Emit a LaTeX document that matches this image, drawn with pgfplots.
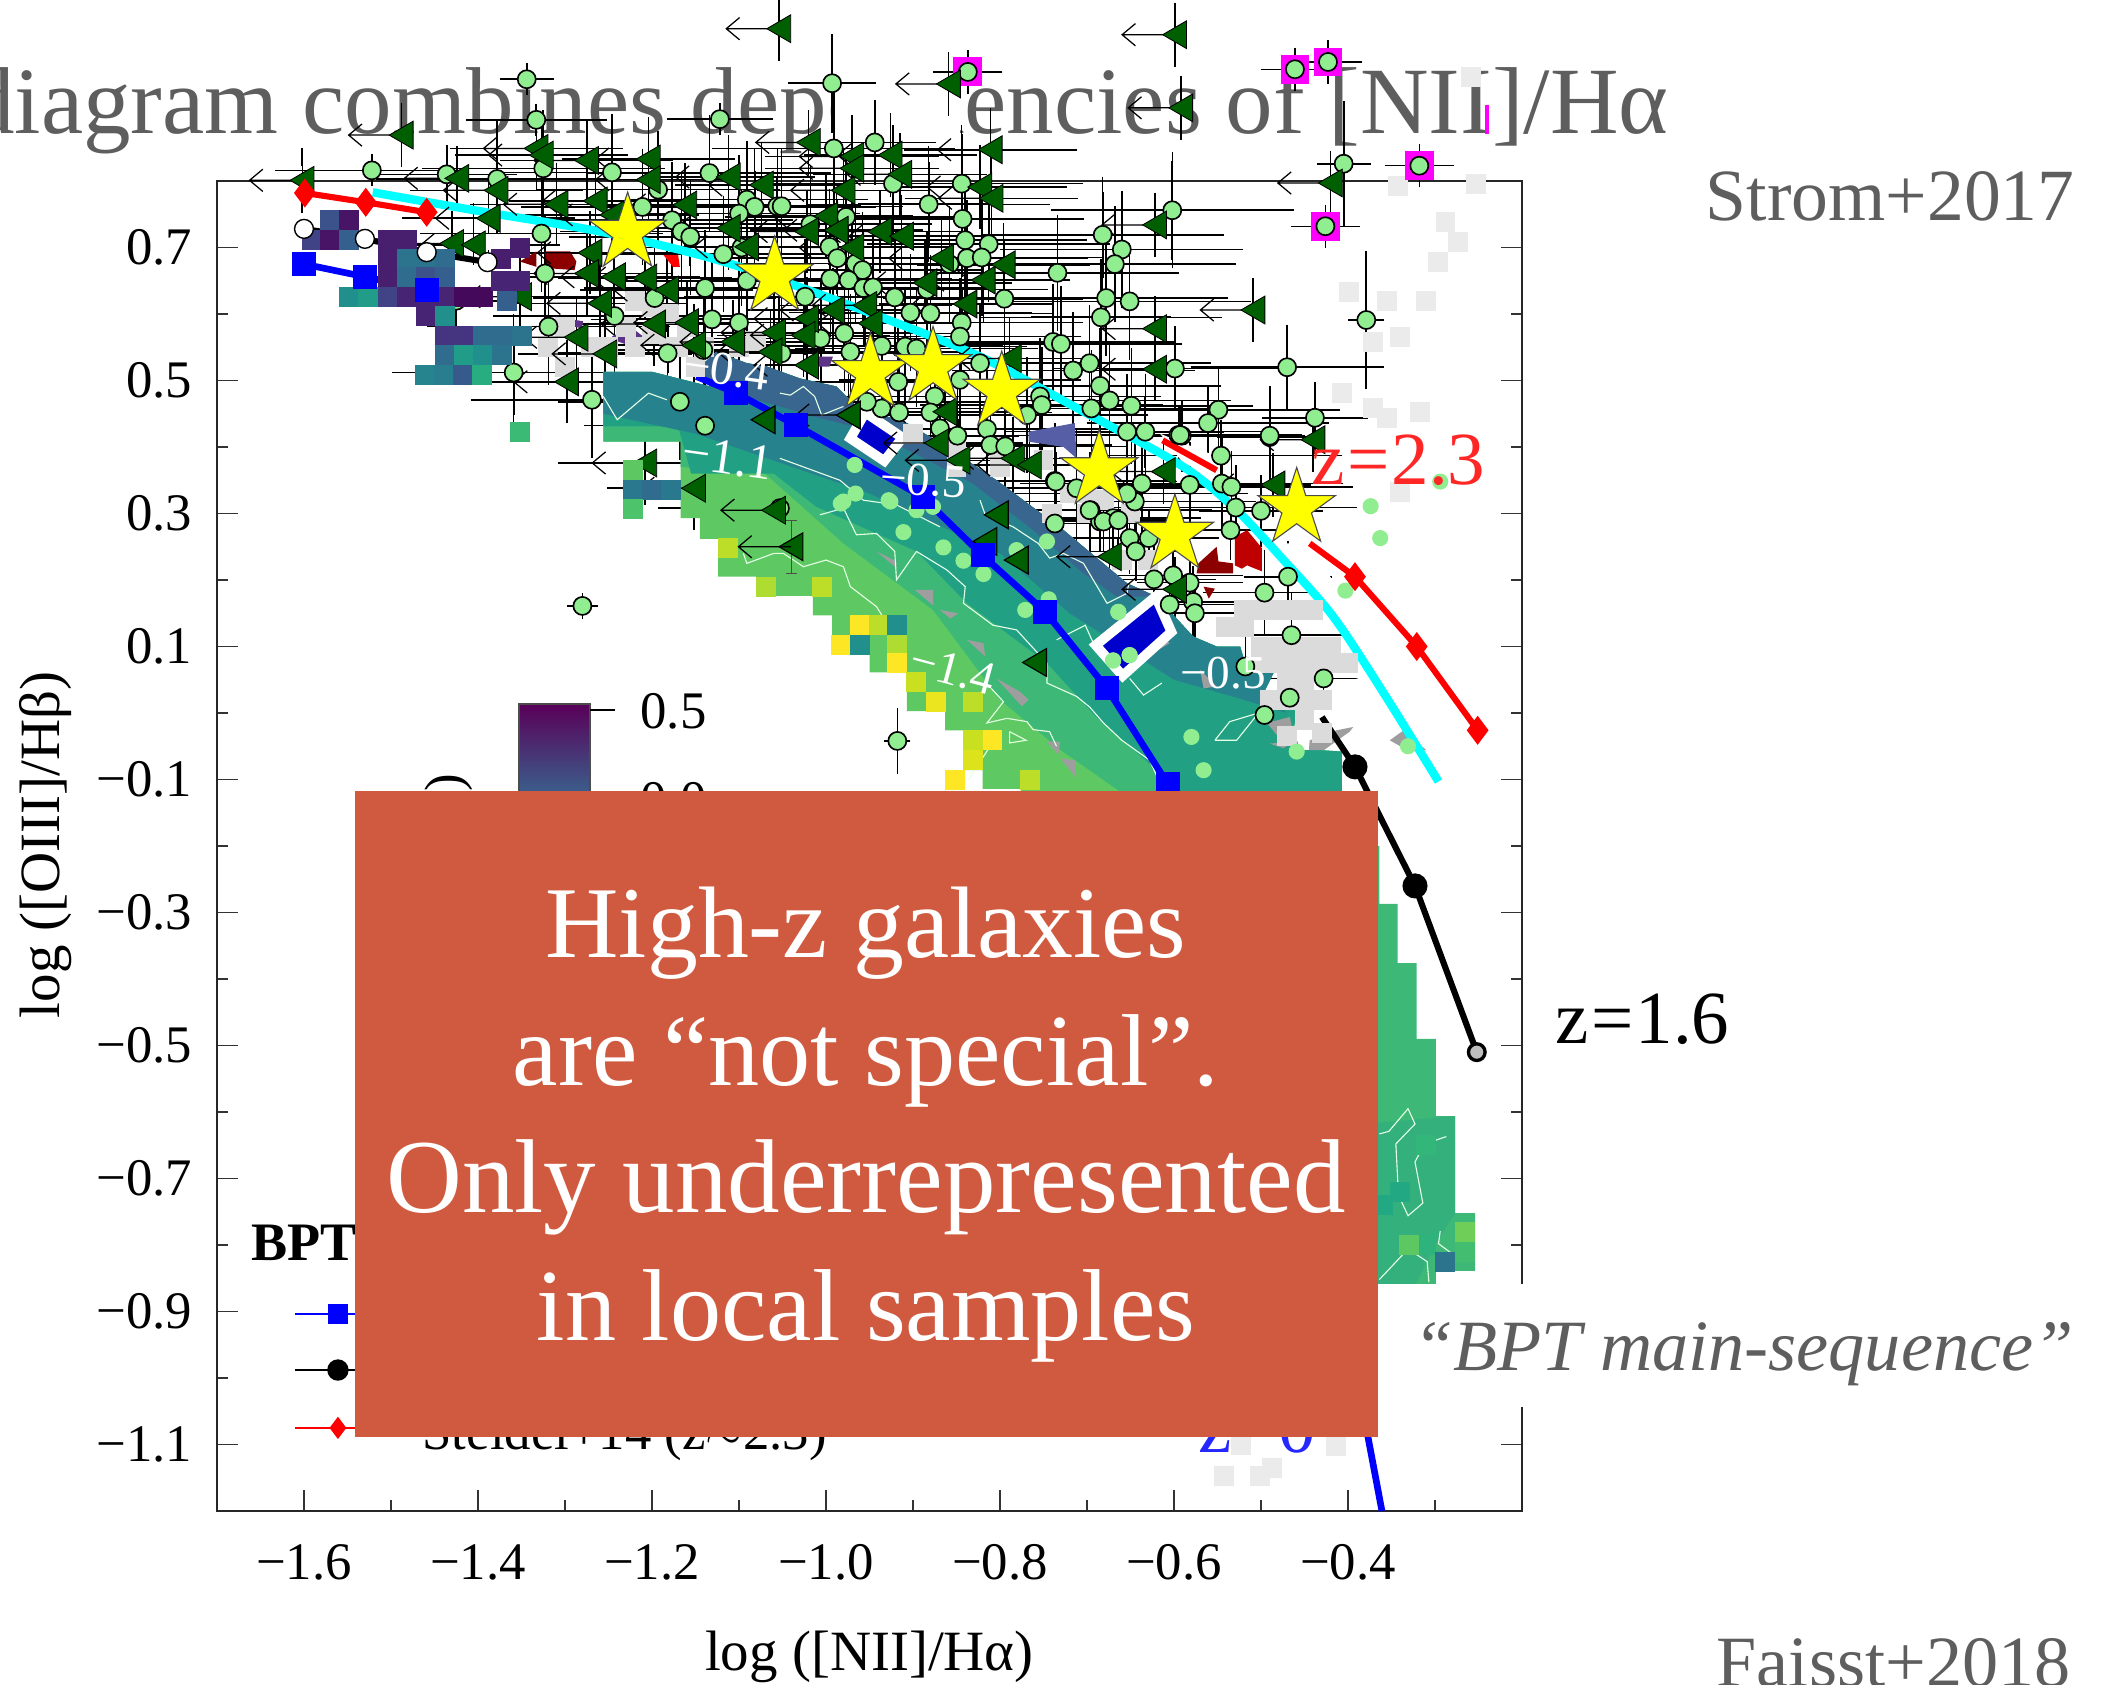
\documentclass[border=0pt]{standalone}
\usepackage{fontspec}
\usepackage{pgfplots}
\usepackage{pgfplotstable}
\pgfplotsset{compat=1.18}
\setmainfont{Liberation Serif}
\definecolor{cyan}{HTML}{00FFFF}
\definecolor{magenta}{HTML}{FF00FF}
\definecolor{yellow}{HTML}{FFFF00}
\definecolor{txtgray}{HTML}{5E5E5E}
\definecolor{boxred}{HTML}{D05A3F}
\definecolor{ltg}{HTML}{90EE90}
\definecolor{dkg}{HTML}{005F00}
\definecolor{vLG}{HTML}{5EC962}
\definecolor{vG}{HTML}{3DB877}
\definecolor{vTG}{HTML}{22A084}
\definecolor{vT}{HTML}{26838E}
\definecolor{vB}{HTML}{38668F}
\pgfdeclareplotmark{bstar}{\pgftransformscale{1.07}\pgfpathmoveto{\pgfqpoint{0pt}{13.7pt}}\pgfpathlineto{\pgfqpoint{-3.08pt}{4.23pt}}\pgfpathlineto{\pgfqpoint{-13.03pt}{4.23pt}}\pgfpathlineto{\pgfqpoint{-4.97pt}{-1.62pt}}\pgfpathlineto{\pgfqpoint{-8.05pt}{-11.08pt}}\pgfpathlineto{\pgfqpoint{0pt}{-5.23pt}}\pgfpathlineto{\pgfqpoint{8.05pt}{-11.08pt}}\pgfpathlineto{\pgfqpoint{4.97pt}{-1.62pt}}\pgfpathlineto{\pgfqpoint{13.03pt}{4.23pt}}\pgfpathlineto{\pgfqpoint{3.08pt}{4.23pt}}\pgfpathclose\pgfusepathqfillstroke}
\pgfdeclareplotmark{ltri}{\pgfpathmoveto{\pgfqpoint{-4.4pt}{0pt}}\pgfpathlineto{\pgfqpoint{4.2pt}{5pt}}\pgfpathlineto{\pgfqpoint{4.2pt}{-5pt}}\pgfpathclose\pgfusepathqfillstroke}
\pgfdeclareplotmark{limarrow}{\pgfpathmoveto{\pgfqpoint{0pt}{0pt}}\pgfpathlineto{\pgfqpoint{-19pt}{0pt}}\pgfpathmoveto{\pgfqpoint{-14.2pt}{4pt}}\pgfpathlineto{\pgfqpoint{-19pt}{0pt}}\pgfpathlineto{\pgfqpoint{-14.2pt}{-4pt}}\pgfusepathqstroke}
\pgfplotstableread{
x y ex ey
-1.436 .810 .07 .03
-1.378 .803 .05 .03
-1.325 .819 .09 .05
-1.246 .813 .06 .04
-1.134 .812 .07 .05
-1.193 .787 .05 .04
-1.211 .761 .08 .03
-1.091 .772 .06 .05
-1.082 .761 .10 .04
-1.056 .762 .07 .03
-1.100 .751 .05 .06
-1.177 .741 .09 .04
-1.166 .724 .06 .05
-1.156 .716 .11 .03
-1.327 .721 .05 .04
-1.097 .700 .08 .05
-1.118 .690 .06 .03
-1.323 .661 .05 .03
-1.091 .650 .10 .05
-1.139 .639 .06 .04
-1.197 .624 .09 .03
-1.425 .620 .07 .03
-1.243 .597 .06 .05
-1.131 .592 .08 .04
-1.100 .587 .05 .05
-1.319 .581 .05 .04
-1.182 .541 .07 .03
-1.141 .546 .06 .04
-1.054 .541 .09 .03
-1.359 .512 .04 .05
-1.168 .468 .06 .03
-1.269 .471 .05 .02
-1.139 .432 .05 .03
-1.053 .308 .06 .02
-.991 .849 .05 .04
-.944 .858 .06 .05
-.923 .796 .08 .04
-.844 .796 .05 .06
-.882 .765 .07 .05
-1.051 .762 .08 .03
-.977 .746 .06 .05
-1.018 .735 .10 .04
-.843 .743 .05 .07
-.840 .711 .12 .04
-.813 .705 .07 .05
-.996 .701 .06 .03
-.987 .684 .09 .04
-.838 .684 .08 .06
-.821 .685 .10 .03
-.858 .675 .06 .05
-.966 .676 .07 .03
-.958 .666 .11 .04
-.995 .653 .06 .05
-.974 .651 .08 .03
-.957 .639 .10 .04
-.946 .640 .06 .03
-.884 .637 .07 .06
-1.024 .626 .09 .04
-.921 .625 .06 .05
-.795 .623 .08 .03
-.903 .602 .10 .04
-.880 .601 .06 .05
-.844 .587 .07 .04
-.979 .571 .09 .03
-1.006 .563 .06 .05
-.972 .543 .08 .04
-1.051 .541 .07 .03
-.936 .552 .10 .05
-.909 .551 .06 .04
-.896 .548 .09 .03
-.846 .566 .07 .05
-.823 .526 .08 .04
-.846 .501 .06 .04
-.917 .498 .08 .03
-.875 .476 .10 .05
-.936 .458 .06 .04
-.916 .452 .08 .03
-.880 .452 .07 .04
-.953 .468 .06 .05
-.869 .428 .08 .03
-.849 .417 .06 .03
-.815 .427 .09 .04
-.811 .403 .07 .03
-.794 .401 .10 .05
-.754 .476 .09 .04
-.752 .463 .07 .03
-.769 .448 .08 .05
-.737 .349 .06 .04
-.712 .338 .09 .03
-.696 .305 .07 .05
-.637 .345 .06 .03
-.645 .318 .08 .04
-.654 .330 .06 .03
-.670 .293 .09 .05
-.685 .288 .07 .03
-.737 .285 .08 .04
-.682 .719 .06 .05
-.660 .697 .05 .04
-.668 .675 .08 .05
-.734 .662 .06 .04
-.678 .624 .09 .06
-.651 .619 .05 .05
-.684 .595 .07 .03
-.739 .558 .10 .05
-.730 .555 .06 .04
-.716 .515 .11 .05
-.697 .526 .07 .03
-.685 .492 .08 .04
-.674 .470 .09 .05
-.649 .462 .06 .04
-.695 .458 .10 .03
-.654 .423 .06 .05
-.633 .423 .08 .04
-.602 .756 .07 .06
-.599 .518 .05 .05
-.595 .418 .07 .03
-.591 .417 .05 .04
-.490 .415 .05 .06
-.546 .387 .08 .04
-.736 .348 .06 .03
-.582 .343 .06 .05
-.545 .345 .07 .06
-.534 .340 .05 .04
-.697 .305 .07 .04
-.681 .288 .08 .03
-.664 .290 .06 .04
-.529 .309 .07 .05
-.500 .304 .06 .04
-.535 .275 .05 .03
-.651 .263 .06 .04
-.644 .243 .05 .03
-.629 .263 .07 .03
-.623 .201 .06 .04
-.601 .207 .07 .03
-.582 .196 .05 .04
-.605 .163 .07 .03
-.578 .167 .05 .04
-.576 .150 .06 .03
-.469 .205 .04 .04
-.496 .181 .06 .05
-.465 .117 .07 .05
-.518 .070 .05 .05
-.428 .052 .05 .03
-.467 .023 .06 .04
-.496 -.003 .03 .03
-.379 .591 .01 .09
-.470 .520 .10 .05
-.405 .826 .02 .08
-1.522 .816 .10 .01
-1.344 .953 .02 .01
-1.333 .892 .07 .01
-1.122 .893 .05 .01
-.993 .947 .04 .06
-.438 .444 .05 .04
-.490 .417 .03 .06
-.549 .456 .07 .05
-.561 .436 .06 .04
-.593 .418 .05 .03
-1.280 .161 .007 .005
-.918 -.042 .004 .035
}\tblgreen
\pgfplotstableread{
x y
-1.424 .804
-1.379 .786
-1.333 .849
-1.327 .839
-1.275 .831
-1.204 .833
-1.112 .806
-1.204 .802
-1.074 .794
-1.162 .764
-1.310 .765
-1.265 .770
-1.246 .749
-1.388 .744
-1.112 .729
-1.091 .701
-1.430 .706
-1.405 .704
-1.271 .692
-1.275 .661
-1.244 .656
-1.208 .654
-1.183 .636
-1.260 .616
-1.198 .585
-1.160 .587
-1.287 .565
-1.254 .540
-1.152 .553
-1.107 .558
-1.060 .572
-1.064 .543
-1.298 .498
-1.352 .626
-1.208 .376
-1.152 .338
-1.060 .305
-1.020 .858
-.926 .839
-.970 .837
-.970 .819
-.811 .847
-.915 .810
-.980 .786
-.823 .791
-.810 .774
-1.000 .747
-.988 .726
-1.022 .724
-.938 .724
-.913 .717
-.970 .700
-.867 .684
-.796 .674
-.886 .647
-.819 .651
-.840 .615
-.955 .613
-.992 .606
-1.022 .593
-.949 .586
-1.026 .568
-.622 .734
-.622 .578
-.622 .517
-1.022 .523
-.789 .533
-.974 .448
-.863 .453
-.873 .406
-.848 .380
-.785 .383
-.766 .373
-.612 .363
-.440 .411
-.486 .343
-.674 .235
-.599 .186
-1.054 1.029
-1.488 .869
-1.602 .801
-.599 1.020
-.592 .910
-.859 .946
-.420 .797
-.509 .606
}\tbltri
\pgfplotstableread{
x y
-.980 .318
-.926 .318
-.966 .330
-.928 .320
-.896 .305
-.877 .310
-.983 .315
-.967 .373
-.911 .272
-.865 .249
-.842 .229
-.819 .209
-.781 .245
-.746 .258
-.744 .171
-.771 .155
-.664 .152
-.651 .087
-.670 .079
-.580 -.036
-.566 -.086
-.459 -.058
-.331 -.050
-.374 .311
-.363 .263
-.403 .184
-.294 .348
}\tblflat
\pgfplotstableread{
x y
-.288 .738
-.274 .708
-.297 .678
-.399 .633
-.355 .620
-.310 .620
-.340 .565
-.371 .558
-.407 .481
-.371 .459
-.317 .453
-.355 .444
-.340 .332
-.253 .795
-.343 .792
-.259 .956
-.343 -.997
-.523 -1.101
-.414 -1.102
-.543 -1.147
-.501 -1.147
-.487 -1.135
-.54 .13
-.52 .13
-.50 .10
-.48 .10
-.46 .10
-.44 .10
-.42 .10
-.52 .155
-.50 .155
-.48 .155
-.46 .155
-.44 .155
-.50 .075
-.48 .075
-.46 .075
-.44 .075
-.42 .075
-.40 .075
-.47 .045
-.45 .045
-.43 .02
-.45 .02
-.47 .02
-.49 .02
-.45 -.01
-.47 -.035
-.43 -.03
-1.22 .62
-1.20 .61
-1.18 .60
-1.23 .58
-1.25 .55
-1.16 .58
-1.20 .57
-1.22 .55
-1.18 .55
-1.30 .58
-1.32 .55
-1.30 .52
-1.27 .55
-1.15 .52
-1.17 .55
-1.14 .55
-1.10 .55
-1.08 .56
-.70 .33
-.68 .32
-.65 .30
-.70 .30
-.72 .33
-.75 .38
-.80 .40
-.85 .40
-.90 .42
-.85 .37
-.80 .37
-.74 .30
-.63 .23
-.66 .23
}\tblgraycell
\pgfplotstableread{
x y m
-1.570 .741 .25
-1.548 .741 .05
-1.591 .712 .2
-1.570 .712 .05
-1.548 .712 .3
-1.504 .712 .08
-1.482 .712 .08
-1.504 .683 .08
-1.482 .683 .38
-1.460 .683 .38
-1.438 .683 .35
-1.504 .655 .08
-1.482 .655 .35
-1.460 .655 .25
-1.438 .655 .3
-1.548 .625 .5
-1.526 .625 .55
-1.504 .625 .2
-1.482 .625 .1
-1.460 .625 .1
-1.438 .625 .1
-1.416 .625 .02
-1.394 .625 .02
-1.460 .597 .1
-1.438 .597 .5
-1.438 .567 .15
-1.416 .567 .15
-1.394 .567 .35
-1.372 .567 .35
-1.350 .567 .38
-1.438 .538 .35
-1.416 .538 .55
-1.394 .538 .5
-1.372 .538 .38
-1.461 .509 .45
-1.439 .509 .42
-1.417 .509 .28
-1.395 .509 .62
-1.352 .422 .68
-1.352 .700 .08
-1.374 .682 .08
-1.374 .650 .1
-1.352 .650 .1
-1.367 .620 .3
-1.222 .336 .4
-1.200 .336 .35
-1.178 .336 .4
-1.222 .365 .75
-1.222 .307 .72
-1.113 .248 .9
-1.005 .190 .9
-.961 .132 1
-.939 .132 .9
-.983 .103 1
-.961 .103 .5
-.918 .103 .88
-.918 .075 1
-.918 .132 .5
-.896 .046 .92
-.874 .017 .97
-.831 .017 .9
-.809 -.041 1
-.831 -.041 .92
-.831 -.071 .95
-.852 -.100 1
-.766 -.101 .9
-1.069 .190 .88
-.31 -.80 .65
-.265 -.78 .78
-.265 -.81 .7
-.288 -.825 .38
-.33 -.80 .75
-.36 -.74 .6
-.34 -.72 .6
-.31 -.65 .66
}\tblcells
\begin{document}
\begin{tikzpicture}
\path[use as bounding box,clip] (0,0) rectangle (756.72pt,606.24pt);
\begin{scope}[x=0.36pt,y=-0.36pt,yshift=606.24pt]
\node[anchor=base east,inner sep=0pt,text=txtgray,font=\fontsize{34.2}{34.2}\selectfont] at (1669,134) {diagram combines dependencies of [NII]/Hα};
\fill[white] (833,60) rectangle (960,150);
\node[anchor=base east,inner sep=0pt,text=txtgray,font=\fontsize{26.5}{26.5}\selectfont] at (2075,221) {Strom+2017};
\node[anchor=base east,inner sep=0pt,text=txtgray,font=\fontsize{26}{26}\selectfont] at (2071,1686) {Faisst+2018};
\end{scope}
\begin{axis}[
  at={(78.12pt,62.28pt)},anchor=south west,scale only axis,
  width=469.8pt,height=478.8pt,clip=false,
  xmin=-1.7,xmax=-0.2,ymin=-1.2,ymax=0.8,
  axis line style={line width=.9pt,black!85},
  xtick={-1.6,-1.4,-1.2,-1.0,-0.8,-0.6,-0.4},
  xticklabels={−1.6,−1.4,−1.2,−1.0,−0.8,−0.6,−0.4},
  minor xtick={-1.5,-1.3,-1.1,-0.9,-0.7,-0.5,-0.3},
  ytick={-1.1,-0.9,-0.7,-0.5,-0.3,-0.1,0.1,0.3,0.5,0.7},
  yticklabels={−1.1,−0.9,−0.7,−0.5,−0.3,−0.1,0.1,0.3,0.5,0.7},
  minor ytick={-1.0,-0.8,-0.6,-0.4,-0.2,0,0.2,0.4,0.6},
  xtick pos=bottom,ytick pos=both,tick align=inside,
  major tick length=7.5pt,minor tick length=4pt,
  tick style={line width=.45pt,black!80},
  tick label style={font=\fontsize{19}{19}\selectfont},
  xticklabel style={yshift=-8.5pt},
  yticklabel style={xshift=-5.4pt},
  xlabel={log ([NII]/Hα)},ylabel={log ([OIII]/Hβ)},
  label style={font=\fontsize{20.5}{20.5}\selectfont},
  xlabel style={at={(axis description cs:0.5,-0.110)},anchor=center},
  ylabel style={at={(axis description cs:-0.131,0.501)},anchor=center},
  colormap/viridis,point meta min=0,point meta max=1,
]
% grey cells under the mesh
\addplot[only marks,mark=square*,mark size=3.4pt,color=black!8,mark options={line width=0pt},skip coords between index={22}{200}] table[x=x,y=y]{\tblgraycell};
\addplot[only marks,mark=square*,mark size=3.4pt,color=black!14,mark options={line width=0pt},skip coords between index={0}{22}] table[x=x,y=y]{\tblgraycell};
% magenta outliers
\addplot[only marks,mark=square*,mark size=5pt,color=magenta] coordinates {(-.318,.823) (-.426,.732) (-.461,.968) (-.423,.979) (-.837,.964)};
\addplot[fill=magenta,draw=none] coordinates {(-.243,.914)(-.238,.914)(-.238,.871)(-.243,.871)};
% further error bars of the crowded points
\addplot[draw=none,restrict x to domain=-1.42:-.52,restrict y to domain=.3:.85,
  error bars/.cd,x dir=both,x fixed=.13,y dir=both,y fixed=.028,
  error bar style={line width=.55pt,black},error mark options={line width=.55pt,black,mark size=3pt}]
  table[x=x,y=y]{\tblgreen};
\addplot[draw=none,restrict x to domain=-1.42:-.6,restrict y to domain=.3:.85,
  error bars/.cd,x dir=both,x fixed=.035,y dir=both,y fixed=.075,
  error bar style={line width=.55pt,black},error mark options={line width=.55pt,black,mark size=3pt}]
  table[x=x,y=y]{\tblgreen};
\addplot[draw=none,restrict x to domain=-1.42:-.7,restrict y to domain=.3:.85,
  error bars/.cd,x dir=both,x fixed=.09,y dir=both,y fixed=.05,
  error bar style={line width=.55pt,black},error mark options={line width=.55pt,black,mark size=3pt}]
  table[x=x,y=y]{\tbltri};
% mesh and points
\addplot[only marks,mark=limarrow,color=black,mark options={line width=.45pt}] table[x=x,y=y]{\tbltri};
\addplot[only marks,mark=*,mark size=3.25pt,color=black,mark options={fill=ltg,draw=black,line width=.6pt},
  error bars/.cd,x dir=both,x explicit,y dir=both,y explicit,
  error bar style={line width=.6pt,black},error mark options={line width=.6pt,black,mark size=3.4pt}]
  table[x=x,y=y,x error=ex,y error=ey]{\tblgreen};
\addplot[only marks,mark=*,mark size=3.25pt,color=black,mark options={fill=ltg,draw=black,line width=.6pt},
  error bars/.cd,x dir=both,x fixed=.03,y dir=both,y fixed=.02,
  error bar style={line width=.5pt,black},error mark options={line width=.5pt,black,mark size=3pt}]
  coordinates {(-.318,.823) (-.426,.732) (-.461,.968) (-.423,.979) (-.837,.964)};
\addplot[only marks,mark=ltri,color=black,mark options={fill=dkg,draw=black,line width=.3pt},
  error bars/.cd,y dir=both,y fixed=.035,
  error bar style={line width=.55pt,black},error mark options={line width=.55pt,black,mark size=3.2pt}]
  table[x=x,y=y]{\tbltri};
% white masks
\addplot[fill=white,draw=none] coordinates {(-1.426,.674)(-1.384,.674)(-1.384,.638)(-1.426,.638)};
\addplot[fill=white,draw=none] coordinates {(-1.396,.721)(-1.363,.721)(-1.363,.696)(-1.396,.696)};
\addplot[fill=white,draw=none] coordinates {(-.497,.255)(-.444,.255)(-.378,.115)(-.321,-.026)(-.340,-.056)(-.378,-.015)(-.425,-.006)(-.428,.035)(-.382,.055)(-.417,.160)(-.474,.210)};
\addplot[fill=white,draw=none] coordinates {(-.616,.420)(-.551,.386)(-.547,.355)(-.589,.375)};
% BPT density: footprint and bands
\addplot[fill=vLG,draw=none] coordinates {(-1.256,.513)(-1.20,.513)(-1.133,.491)(-1.149,.516)(-1.126,.543)(-1.091,.526)(-1.068,.521)(-1.030,.503)(-.988,.491)(-.965,.461)(-.907,.436)(-.861,.400)(-.804,.350)(-.727,.275)(-.654,.195)(-.620,.175)(-.578,.115)(-.551,.100)(-.524,.100)(-.516,.065)(-.482,.070)(-.497,.030)(-.457,.010)(-.463,-.026)(-.455,-.056)(-.430,-.056)(-.407,-.058)(-.407,-.116)(-.40,-.20)(-.60,-.20)(-.776,-.20)(-.776,-.114)(-.820,-.114)(-.820,-.086)(-.842,-.086)(-.842,-.114)(-.863,-.114)(-.863,-.086)(-.842,-.086)(-.842,-.026)(-.863,-.026)(-.863,.003)(-.907,.003)(-.907,.061)(-.950,.061)(-.950,.089)(-.993,.089)(-.993,.147)(-1.015,.147)(-1.015,.176)(-1.080,.176)(-1.080,.205)(-1.124,.205)(-1.124,.262)(-1.145,.262)(-1.145,.293)(-1.167,.293)(-1.167,.408)(-1.256,.408)};
\addplot[fill=vG,draw=none] coordinates {(-1.256,.513)(-1.20,.513)(-1.133,.491)(-1.149,.516)(-1.126,.543)(-1.091,.526)(-1.068,.521)(-1.030,.503)(-.988,.491)(-.965,.461)(-.907,.436)(-.861,.400)(-.804,.350)(-.727,.275)(-.654,.195)(-.620,.175)(-.578,.115)(-.551,.100)(-.524,.100)(-.516,.065)(-.482,.070)(-.497,.030)(-.457,.010)(-.463,-.026)(-.455,-.056)(-.430,-.056)(-.407,-.058)(-.407,-.116)(-.40,-.20)(-.66,-.20)(-.66,-.12)(-.73,-.056)(-.80,.02)(-.877,.155)(-.98,.255)(-1.07,.36)(-1.167,.37)(-1.167,.408)(-1.256,.408)};
\addplot[fill=vTG,draw=none] coordinates {(-1.256,.513)(-1.20,.513)(-1.133,.491)(-1.149,.516)(-1.126,.543)(-1.091,.526)(-1.068,.521)(-1.030,.503)(-.988,.491)(-.965,.461)(-.907,.436)(-.861,.400)(-.804,.350)(-.727,.275)(-.654,.195)(-.620,.175)(-.578,.115)(-.551,.100)(-.524,.100)(-.516,.065)(-.482,.070)(-.497,.030)(-.457,.010)(-.463,-.026)(-.455,-.056)(-.430,-.056)(-.407,-.058)(-.407,-.116)(-.40,-.20)(-.60,-.20)(-.60,-.13)(-.616,-.09)(-.69,-.005)(-.746,.075)(-.838,.165)(-.896,.243)(-1.011,.31)(-1.06,.36)(-1.155,.36)(-1.17,.431)(-1.256,.431)};
\addplot[fill=vT,draw=none] coordinates {(-1.256,.513)(-1.20,.513)(-1.133,.491)(-1.149,.516)(-1.126,.543)(-1.091,.526)(-1.068,.521)(-1.030,.503)(-.988,.491)(-.965,.461)(-.907,.436)(-.861,.400)(-.804,.350)(-.727,.275)(-.654,.195)(-.620,.175)(-.578,.115)(-.551,.100)(-.524,.100)(-.516,.065)(-.482,.070)(-.497,.030)(-.47,.0)(-.52,.02)(-.60,.05)(-.66,.10)(-.72,.15)(-.80,.24)(-.95,.33)(-1.15,.42)(-1.256,.45)};
\addplot[fill=vB,draw=none] coordinates {(-1.133,.491)(-1.149,.516)(-1.126,.543)(-1.091,.526)(-1.068,.521)(-1.030,.503)(-.988,.491)(-.965,.461)(-.907,.436)(-.861,.400)(-.804,.350)(-.727,.275)(-.654,.195)(-.620,.175)(-.666,.175)(-.704,.210)(-.762,.275)(-.831,.345)(-.95,.425)(-1.015,.446)(-1.05,.46)};
% strip right of the box
\addplot[fill=vG,draw=none] coordinates {(-.40,-.20)(-.364,-.20)(-.364,-.287)(-.343,-.287)(-.343,-.376)(-.321,-.376)(-.321,-.490)(-.299,-.490)(-.299,-.606)(-.277,-.606)(-.277,-.752)(-.254,-.752)(-.254,-.839)(-.299,-.839)(-.299,-.866)(-.325,-.866)(-.40,-.866)};
\addplot[fill=vTG!35!vG,draw=none] coordinates {(-.40,-.62)(-.277,-.606)(-.277,-.752)(-.30,-.80)(-.325,-.866)(-.40,-.866)};
% individual cells
\addplot[scatter,only marks,mark=square*,mark size=3.42pt,scatter src=explicit,
  scatter/use mapped color={draw=mapped color,fill=mapped color},mark options={line width=0pt}]
  table[x=x,y=y,meta=m]{\tblcells};
% small purple patches
\addplot[fill=vB!40!blue!60!black!70,draw=none] coordinates {(-.767,.423)(-.714,.436)(-.712,.383)(-.727,.400)(-.767,.408)};
\addplot[fill=violet!50!vB,draw=none] coordinates {(-1.013,.536)(-.992,.536)(-.996,.521)(-1.011,.521)};
\addplot[fill=violet!50!vB,draw=none] coordinates {(-1.31,.596)(-1.279,.589)(-1.281,.578)(-1.311,.591)};
\addplot[fill=violet!50!vB,draw=none] coordinates {(-1.246,.566)(-1.225,.581)(-1.21,.566)(-1.212,.546)(-1.244,.561)};
% grey slivers
\addplot[fill=black!38,draw=none] coordinates {(-.898,.185)(-.877,.185)(-.877,.162)};
\addplot[fill=black!38,draw=none] coordinates {(-.869,.155)(-.848,.150)(-.857,.142)};
\addplot[fill=black!38,draw=none] coordinates {(-.838,.110)(-.819,.105)(-.817,.085)};
\addplot[fill=black!38,draw=none] coordinates {(-.804,.052)(-.777,.032)(-.767,.020)(-.775,.010)};
\addplot[fill=black!38,draw=none] coordinates {(-.942,.243)(-.919,.228)(-.919,.218)};
\addplot[fill=black!38,draw=none] coordinates {(-.746,-.043)(-.731,-.043)(-.733,-.063)};
\addplot[fill=black!38,draw=none] coordinates {(-.731,-.068)(-.714,-.071)(-.712,-.098)};
\addplot[fill=black!38,draw=none] coordinates {(-.490,-.046)(-.463,-.043)(-.474,-.053)};
\addplot[fill=black!38,draw=none] coordinates {(-.493,-.015)(-.467,-.006)(-.463,-.030)(-.482,-.033)};
\addplot[fill=black!38,draw=none] coordinates {(-.444,-.041)(-.413,-.026)(-.394,-.021)(-.398,-.028)(-.428,-.056)(-.445,-.056)};
\addplot[fill=black!38,draw=none] coordinates {(-.352,-.041)(-.336,-.026)(-.310,-.056)(-.329,-.058)};
\addplot[fill=black!38,draw=none] coordinates {(-.645,.147)(-.631,.135)(-.639,.132)};
\addplot[fill=black!38,draw=none] coordinates {(-.622,.125)(-.605,.105)(-.618,.095)};
\addplot[fill=black!38,draw=none] coordinates {(-.570,.065)(-.551,.040)(-.566,.037)};
% white contours
\pgfplotsset{cont/.style={draw=white!90!green,line width=.4pt}}
\addplot[cont] coordinates {(-1.007,.298)(-.980,.308)(-.965,.268)(-.942,.270)(-.921,.243)(-.919,.200)(-.896,.243)(-.861,.215)(-.840,.190)(-.842,.165)(-.808,.132)(-.781,.125)(-.746,.075)(-.746,.045)(-.712,.025)(-.697,.009)(-.681,-.015)(-.660,-.041)(-.628,-.071)(-.616,-.106)};
\addplot[cont] coordinates {(-1.095,.240)(-1.091,.225)(-1.060,.240)(-1.049,.240)(-1.026,.220)(-1.0,.230)(-.980,.220)(-.972,.190)(-.942,.160)(-.930,.135)(-.913,.115)};
\addplot[cont] coordinates {(-.823,.320)(-.817,.298)(-.785,.280)(-.756,.255)(-.743,.233)(-.727,.240)(-.704,.225)(-.677,.165)(-.654,.180)(-.652,.195)};
\addplot[cont] coordinates {(-1.053,.481)(-1.041,.478)(-1.026,.491)(-1.013,.476)(-1.005,.448)(-.980,.461)};
\addplot[cont] coordinates {(-.651,.052)(-.635,.027)(-.614,.045)};
\addplot[cont] coordinates {(-.735,.110)(-.702,.132)(-.691,.100)};
\addplot[cont] coordinates {(-1.053,.383)(-.984,.350)(-.957,.320)(-.919,.313)(-.869,.280)};
\addplot[cont] coordinates {(-.553,-.041)(-.536,-.013)(-.503,0)(-.509,-.01)(-.528,-.041)(-.553,-.041)};
\addplot[cont] coordinates {(-.836,-.100)(-.804,-.035)(-.831,-.045)};
\addplot[cont] coordinates {(-.789,-.028)(-.770,-.041)(-.789,-.045)(-.789,-.028)};
\addplot[cont] coordinates {(-.810,.037)(-.796,.017)(-.815,-.015)(-.792,-.008)(-.769,-.013)(-.762,-.025)(-.743,-.028)(-.735,-.05)};
\addplot[cont] coordinates {(-.364,-.633)(-.353,-.629)(-.331,-.595)(-.323,-.618)(-.345,-.648)(-.342,-.725)(-.331,-.756)(-.314,-.737)(-.323,-.675)(-.312,-.648)(-.287,-.637)};
\addplot[cont] coordinates {(-.364,-.852)(-.331,-.806)(-.309,-.825)(-.307,-.856)};
\addplot[cont] coordinates {(-.294,-.779)(-.296,-.798)(-.268,-.825)};
\addplot[cont] coordinates {(-1.430,.556)(-1.403,.536)(-1.424,.526)};
\addplot[cont] coordinates {(-1.405,.546)(-1.380,.533)};
\addplot[cont] coordinates {(-1.256,.476)(-1.240,.441)(-1.204,.481)(-1.183,.471)};
\addplot[cont] coordinates {(-1.49,.69)(-1.47,.65)(-1.45,.68)(-1.43,.66)};
% white-framed blue boxes
\addplot[fill=blue!80!black,draw=white,line width=3.5pt] coordinates {(-.955,.452)(-.912,.414)(-.933,.379)(-.972,.413)} -- cycle;
\addplot[fill=blue!80!black,draw=white,line width=3.5pt] coordinates {(-.621,.175)(-.603,.122)(-.659,.056)(-.690,.102)} -- cycle;
% dark red patches
\addplot[fill=red!55!black,draw=none] coordinates {(-.574,.210)(-.572,.225)(-.551,.250)(-.549,.228)(-.532,.225)(-.532,.210)};
\addplot[fill=red!75!black,draw=none] coordinates {(-.530,.265)(-.516,.275)(-.499,.248)(-.499,.213)(-.516,.222)(-.522,.217)(-.530,.222)};
\addplot[fill=red!55!black,draw=none] coordinates {(-.566,.190)(-.553,.187)(-.560,.172)};
\addplot[fill=red!50!black,draw=none] coordinates {(-1.352,.679)(-1.333,.694)(-1.333,.671)};
\addplot[fill=red!55!black,draw=none] coordinates {(-1.323,.694)(-1.294,.694)(-1.287,.679)(-1.289,.666)(-1.321,.669)};
\addplot[fill=red,draw=none] coordinates {(-1.187,.689)(-1.170,.689)(-1.168,.671)(-1.176,.671)};
% flat green points, late triangles
\addplot[only marks,mark=*,mark size=2.7pt,color=ltg,mark options={draw=none}] table[x=x,y=y]{\tblflat};
\addplot[only marks,mark=*,mark size=2.7pt,color=ltg,mark options={draw=none}] coordinates {(-.651,.087)(-.670,.079)(-.664,.152)};
\addplot[only marks,mark=ltri,color=black,mark options={fill=dkg,draw=none},
  error bars/.cd,y dir=both,y fixed=.04,error bar style={line width=.5pt,black!70}]
  coordinates {(-1.040,.250)};
\addplot[only marks,mark=limarrow,color=black,mark options={line width=.45pt}] coordinates {(-1.040,.250)};
\addplot[only marks,mark=ltri,color=black,mark options={fill=dkg,draw=none}] coordinates {(-.760,.076) (-.804,.298) (-.817,.258) (-.781,.230) (-1.072,.441) (-.974,.448)};
% stars
\addplot[only marks,mark=bstar,color=black,mark options={fill=yellow,draw=black!70,line width=.4pt}] coordinates {(-1.228,.722)(-1.059,.656)(-.949,.511)(-.877,.520)(-.798,.483)(-.686,.365)(-.599,.268)(-.459,.308)};
% Steidel+14 lines
\addplot[color=red,line width=2.2pt,mark=diamond*,mark size=3.4pt] coordinates {(-1.599,.782)(-1.529,.768)(-1.459,.753)};
\addplot[color=red,line width=2.2pt] coordinates {(-.613,.410)(-.551,.365)};
\addplot[color=red,line width=2.2pt,mark=diamond*,mark size=3.4pt,mark indices={2,3,4}] coordinates {(-.444,.255)(-.392,.205)(-.321,.100)(-.251,-.026)};
% z=1.6 line
\addplot[color=black,line width=2.2pt] coordinates {(-1.600,.728)(-1.530,.713)(-1.459,.693)(-1.389,.678)};
\addplot[only marks,mark=*,mark size=3.4pt,color=black,mark options={fill=white,draw=black,line width=.5pt}] coordinates {(-1.600,.728)(-1.530,.713)(-1.459,.693)(-1.389,.678)};
\addplot[color=black,line width=2.2pt,mark=*,mark size=3.4pt,mark indices={2,3}] coordinates {(-.430,-.006)(-.392,-.081)(-.323,-.260)(-.252,-.510)};
\addplot[only marks,mark=*,mark size=3pt,color=black,mark options={fill=black!25,draw=black,line width=1.2pt}] coordinates {(-.252,-.510)};
% z=0 line
\addplot[color=blue,line width=2.4pt,mark=square*,mark size=3.1pt] coordinates {(-1.600,.675)(-1.530,.656)(-1.459,.636)};
\addplot[color=blue,line width=2.4pt,mark=square*,mark size=3.1pt,mark indices={2,3,4,5,6,7,8}] coordinates {(-1.149,.506)(-1.103,.481)(-1.035,.433)(-.889,.325)(-.820,.237)(-.748,.152)(-.677,.037)(-.607,-.107)(-.52,-.30)(-.45,-.60)(-.40,-.90)(-.377,-1.089)(-.361,-1.2)};
% cyan
\addplot[color=cyan,line width=3pt,smooth] coordinates {(-1.521,.783)(-1.40,.755)(-1.26,.724)(-1.143,.688)(-1.053,.651)(-.938,.596)(-.823,.536)(-.708,.456)(-.589,.370)(-.528,.305)(-.474,.230)(-.417,.145)(-.359,.030)(-.296,-.103)};
% legend samples
\addplot[color=blue,line width=.5pt,mark=square*,mark size=3.4pt,mark indices={2}] coordinates {(-1.6105,-.904)(-1.561,-.904)(-1.50,-.904)};
\addplot[color=black,line width=.5pt,mark=*,mark size=3.6pt,mark indices={2}] coordinates {(-1.6105,-.988)(-1.561,-.988)(-1.50,-.988)};
\addplot[color=red,line width=.5pt,mark=diamond*,mark size=3.6pt,mark indices={2}] coordinates {(-1.6105,-1.075)(-1.561,-1.075)(-1.50,-1.075)};
\end{axis}
\begin{scope}[x=0.36pt,y=-0.36pt,yshift=606.24pt]
% contour labels
\node[text=white,rotate=-8,inner sep=0pt,font=\fontsize{17}{17}\selectfont] at (727,370) {−0.4};
\node[text=white,rotate=-8,inner sep=0pt,font=\fontsize{18}{18}\selectfont] at (728,458) {−1.1};
\node[text=white,rotate=-4,inner sep=0pt,font=\fontsize{17}{17}\selectfont] at (923,480) {−0.5};
\node[text=white,rotate=-15,inner sep=0pt,font=\fontsize{17}{17}\selectfont] at (953,670) {−1.4};
\node[text=white,rotate=0,inner sep=0pt,font=\fontsize{17}{17}\selectfont] at (1223,673) {−0.5};
% colour bar, hidden in part by the box
\shade[top color=violet!70!black,bottom color=vB] (519,704) rectangle (590,800);
\draw[black!70,line width=.4pt] (519,704) rectangle (590,800);
\draw[black,line width=.5pt] (590,710) -- (615,710);
\draw[black,line width=.5pt] (590,793) -- (615,793);
\node[anchor=west,inner sep=0pt,font=\fontsize{19}{19}\selectfont] at (640,711) {0.5};
\node[anchor=west,inner sep=0pt,font=\fontsize{19}{19}\selectfont] at (640,800) {0.0};
\node[rotate=90,inner sep=0pt,font=\fontsize{19}{19}\selectfont] at (449,783) {)};
\node[anchor=base west,inner sep=0pt,font=\bfseries\fontsize{19.5}{19.5}\selectfont] at (251,1260) {BPT};
\node[anchor=base west,inner sep=0pt,font=\fontsize{19}{19}\selectfont] at (422,1449) {Steidel+14 (z$\sim$2.3)};
\node[anchor=base west,inner sep=0pt,text=blue!85!white,font=\fontsize{27}{27}\selectfont] at (1198,1452) {z\kern.8pt=\kern.8pt0};
\node[anchor=base west,inner sep=0pt,text=red!85!white,font=\fontsize{27}{27}\selectfont] at (1311,484) {z\kern.8pt=\kern.8pt2.3};
\node[anchor=base west,inner sep=0pt,font=\fontsize{27}{27}\selectfont] at (1555,1043) {z\kern.8pt=\kern.8pt1.6};
% box
\fill[white] (1378,1284) rectangle (2102,1407);
\node[anchor=base east,inner sep=0pt,text=txtgray,font=\itshape\fontsize{26}{26}\selectfont] at (2074,1370) {“BPT main-sequence”};
\fill[boxred] (355,791) rectangle (1378,1437);
\node[anchor=base,inner sep=0pt,text=white,font=\fontsize{36.6}{36.6}\selectfont] at (866,957) {High-z galaxies};
\node[anchor=base,inner sep=0pt,text=white,font=\fontsize{36.8}{36.8}\selectfont] at (866,1085) {are “not special”.};
\node[anchor=base,inner sep=0pt,text=white,font=\fontsize{37.8}{37.8}\selectfont] at (866,1212) {Only underrepresented};
\node[anchor=base,inner sep=0pt,text=white,font=\fontsize{36.8}{36.8}\selectfont] at (866,1340) {in local samples};
\end{scope}
\end{tikzpicture}
\end{document}
